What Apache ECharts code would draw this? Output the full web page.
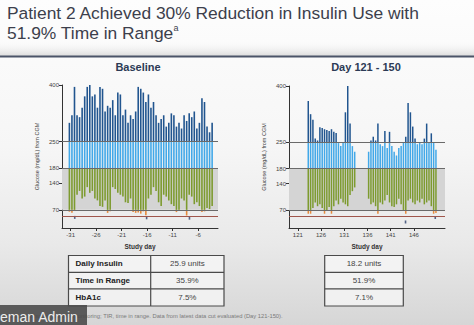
<!DOCTYPE html>
<html><head><meta charset="utf-8">
<script src="https://cdn.jsdelivr.net/npm/echarts@6/dist/echarts.min.js"></script>
<style>
html,body{margin:0;padding:0;width:474px;height:325px;overflow:hidden;}
body{background:linear-gradient(180deg,#fdfdfd 0%,#f6f6f6 45%,#e9e9e9 75%,#d6d6d6 100%);}
#c{width:474px;height:325px;}
</style></head><body><div id="c"></div>
<script>
// ---- data ----
const baseDays = [-31.25,-30.75,-30.25,-29.75,-29.25,-28.75,-28.25,-27.75,-27.25,-26.75,-26.25,-25.75,-25.25,-24.75,-24.25,-23.75,-23.25,-22.75,-22.25,-21.75,-21.25,-20.75,-20.25,-19.75,-19.25,-18.75,-18.25,-17.75,-17.25,-16.75,-16.25,-15.75,-15.25,-14.75,-14.25,-13.75,-13.25,-12.75,-12.25,-11.75,-11.25,-10.75,-10.25,-9.75,-9.25,-8.75,-8.25,-7.75,-7.25,-6.75,-6.25,-5.75,-5.25,-4.75,-4.25,-3.75,-3.25];
const baseHigh = [300,320,395,320,315,340,370,395,400,370,375,340,395,390,330,345,340,360,320,380,375,320,335,300,320,310,330,395,390,380,355,375,340,355,320,300,310,320,290,300,325,320,290,300,285,320,305,325,315,330,285,300,365,355,290,275,300];
const baseLow = [65,62,68,110,120,100,105,130,115,120,100,95,80,78,95,62,66,130,125,115,110,105,90,88,100,64,62,63,60,66,56,100,110,130,120,90,80,110,105,95,85,80,64,68,100,95,55,110,105,85,90,80,64,66,75,72,80];
const baseVeryLow = [[-30.2,50],[-16.1,49],[-7.7,48]];

const lateDays = [123.25,123.75,124.25,124.75,125.25,125.75,126.25,126.75,127.25,127.75,128.25,128.75,129.25,129.75,130.25,130.75,131.25,131.75,132.25,132.75,133.25,136.25,136.75,137.25,137.75,138.25,138.75,139.25,139.75,140.25,140.75,141.25,141.75,142.25,142.75,143.25,143.75,144.25,144.75,145.25,145.75,146.25,146.75,147.25,147.75,148.25,148.75,149.25,149.75,150.25,150.75];
const lateHigh = [360,325,310,260,255,290,288,285,283,280,285,278,275,248,240,250,330,400,300,240,225,225,255,265,255,300,245,240,280,235,278,240,225,215,235,240,250,265,355,330,292,260,245,250,245,260,300,250,274,250,230];
const lateLow = [60,60,75,90,80,85,75,60,68,78,60,80,95,85,100,90,85,80,110,120,130,100,85,90,80,60,90,85,95,110,90,80,78,85,100,85,70,60,95,100,90,85,95,90,100,85,90,95,80,60,62];
const lateVeryLow = [[144.2,38],[150.6,50]];

const yTicks = [70,140,180,250,400];
const baseXTicks = [-31,-26,-21,-16,-11,-6];
const lateXTicks = [121,126,131,136,141,146];
const refLines = [250,180,70];
const hypoLine = 54;
const rangeBand = [70,180];

const tableRows = ['Daily Insulin','Time in Range','HbA1c'];
const baseTable = ['25.9 units','35.9%','7.5%'];
const lateTable = ['18.2 units','51.9%','7.1%'];

// ---- rendering ----
const FONT = '"Liberation Sans", Arial, sans-serif';
const bands = [[0,54,'#2c406c'],[54,70,'#e58a3c'],[70,180,'#7d9b2f'],[180,250,'#42a8e8'],[250,1000,'#21558f']];
function stripRenderer(width){
  return function(params, api){
    const d = api.value(0), lo = api.value(1), hi = api.value(2);
    const children = [];
    for (const [b0,b1,c] of bands){
      const a = Math.max(lo,b0), b = Math.min(hi,b1);
      if (a < b){
        const p1 = api.coord([d,b]), p2 = api.coord([d,a]);
        children.push({type:'rect', shape:{x:p1[0]-width/2, y:p1[1], width:width, height:p2[1]-p1[1]},
          style:{fill:c}});
      }
    }
    return {type:'group', children};
  };
}

function xAxisCfg(idx, min, max, ticks){
  return {type:'value', gridIndex:idx, min:min, max:max,
    name:'Study day', nameLocation:'middle', nameGap:15,
    nameTextStyle:{fontSize:6.5, color:'#333', fontWeight:'bold', fontFamily:FONT},
    axisLine:{lineStyle:{color:'#333', width:1}},
    axisTick:{customValues:ticks, length:3, lineStyle:{color:'#333'}},
    axisLabel:{customValues:ticks, fontSize:6, color:'#444', margin:4, fontFamily:FONT},
    splitLine:{show:false}};
}
function yAxisCfg(idx){
  return {type:'value', gridIndex:idx, min:22, max:400,
    name:'Glucose (mg/dL) from CGM', nameLocation:'middle', nameGap:22, nameRotate:90,
    nameTextStyle:{fontSize:5.5, color:'#444', fontFamily:FONT},
    axisLine:{show:true, lineStyle:{color:'#333', width:1}},
    axisTick:{show:true, customValues:yTicks, length:3, lineStyle:{color:'#333'}},
    axisLabel:{customValues:yTicks, fontSize:6, color:'#444', margin:3, fontFamily:FONT},
    splitLine:{show:false}};
}
function bgSeries(idx){
  return {type:'line', xAxisIndex:idx, yAxisIndex:idx, data:[], z:1, silent:true,
    markArea:{silent:true, itemStyle:{color:'#d4d4d4'}, data:[[{yAxis:rangeBand[0]},{yAxis:rangeBand[1]}]]}};
}
function lineSeries(idx){
  return {type:'line', xAxisIndex:idx, yAxisIndex:idx, data:[], z:5, silent:true,
    markLine:{silent:true, symbol:'none', label:{show:false},
      data: refLines.map(v=>({yAxis:v, lineStyle:{color:'#6a6a6a', width:1, type:'solid'}}))
        .concat([{yAxis:hypoLine, lineStyle:{color:'#a0564c', width:1, type:'solid'}}])}};
}
function stripSeries(idx, days, low, high, w){
  return {type:'custom', xAxisIndex:idx, yAxisIndex:idx, z:3, silent:true,
    renderItem:stripRenderer(w), encode:{x:0, y:[1,2]},
    data: days.map((d,i)=>[d, low[i], high[i]])};
}
function dotSeries(idx, pts){
  return {type:'scatter', xAxisIndex:idx, yAxisIndex:idx, z:4, silent:true,
    symbol:'rect', symbolSize:[1.6,3], itemStyle:{color:'#2c406c'}, data:pts};
}

function table(x0, x1, xDiv, values){
  const ys = [255.5, 272.3, 288.8, 306];
  const els = [];
  els.push({type:'rect', shape:{x:x0, y:ys[0], width:x1-x0, height:ys[3]-ys[0]},
    style:{fill:'rgba(250,250,250,0.7)', stroke:'#4a4a4a', lineWidth:1.2}});
  els.push({type:'line', shape:{x1:x0, y1:ys[1], x2:x1, y2:ys[1]}, style:{stroke:'#4a4a4a', lineWidth:1.2}});
  els.push({type:'line', shape:{x1:x0, y1:ys[2], x2:x1, y2:ys[2]}, style:{stroke:'#4a4a4a', lineWidth:1.2}});
  if (xDiv) els.push({type:'line', shape:{x1:xDiv, y1:ys[0], x2:xDiv, y2:ys[3]}, style:{stroke:'#4a4a4a', lineWidth:1.2}});
  for (let i=0;i<3;i++){
    const cy = (ys[i]+ys[i+1])/2;
    if (xDiv){
      els.push({type:'text', x:x0+7, y:cy, style:{text:tableRows[i], font:'bold 8px '+FONT, fill:'#222', textVerticalAlign:'middle'}});
      els.push({type:'text', x:(xDiv+x1)/2, y:cy, style:{text:values[i], font:'8px '+FONT, fill:'#444', textAlign:'center', textVerticalAlign:'middle'}});
    } else {
      els.push({type:'text', x:(x0+x1)/2, y:cy, style:{text:values[i], font:'8px '+FONT, fill:'#444', textAlign:'center', textVerticalAlign:'middle'}});
    }
  }
  return els;
}

const chart = echarts.init(document.getElementById('c'), null, {renderer:'svg', width:474, height:325});
chart.setOption({
  backgroundColor:'transparent',
  animation:false,
  textStyle:{fontFamily:FONT},
  grid:[{left:62, right:256, top:85, bottom:97},{left:289, right:29, top:86, bottom:97}],
  xAxis:[xAxisCfg(0,-32.7,-2.1,baseXTicks), xAxisCfg(1,119.1,152.7,lateXTicks)],
  yAxis:[yAxisCfg(0), yAxisCfg(1)],
  series:[
    bgSeries(0), stripSeries(0, baseDays, baseLow, baseHigh, 1.6), dotSeries(0, baseVeryLow), lineSeries(0),
    bgSeries(1), stripSeries(1, lateDays, lateLow, lateHigh, 1.5), dotSeries(1, lateVeryLow), lineSeries(1)
  ],
  graphic:[
    {type:'rect', shape:{x:0, y:40, width:474, height:16}, silent:true,
      style:{fill:new echarts.graphic.LinearGradient(0,0,0,1,[{offset:0,color:'rgba(255,255,255,0)'},{offset:1,color:'#dcdcdc'}])}},
    {type:'rect', shape:{x:0, y:55.5, width:474, height:2}, style:{fill:'#4b5468'}},
    {type:'text', x:7, y:2.5, style:{
      text:'Patient 2 Achieved 30% Reduction in Insulin Use with\n51.9% Time in Range{sup|a}',
      font:'17.4px '+FONT, fill:'#3c3f4c', lineHeight:20.5,
      rich:{sup:{fontSize:9, verticalAlign:'top', lineHeight:14, fill:'#3c3f4c'}}}},
    {type:'text', x:138, y:66.5, style:{text:'Baseline', font:'bold 11px '+FONT, fill:'#2c3a55', textAlign:'center', textVerticalAlign:'middle'}},
    {type:'text', x:366, y:67, style:{text:'Day 121 - 150', font:'bold 11px '+FONT, fill:'#2c3a55', textAlign:'center', textVerticalAlign:'middle'}},
    ...table(68.5, 224, 150.7, baseTable),
    ...table(324.7, 403.3, null, lateTable),
    {type:'text', x:5, y:316, style:{text:'CGM, continuous glucose monitoring; TIR, time in range. Data from latest data cut evaluated (Day 121-150).',
      font:'5.8px '+FONT, fill:'#7a7a7a', textVerticalAlign:'middle'}},
    {type:'rect', shape:{x:0, y:305, width:87, height:20}, style:{fill:'rgba(72,72,72,0.88)'}},
    {type:'text', x:0, y:317, style:{text:'eman Admin', font:'14px '+FONT, fill:'#ececec', textVerticalAlign:'middle'}}
  ]
});
</script></body></html>
